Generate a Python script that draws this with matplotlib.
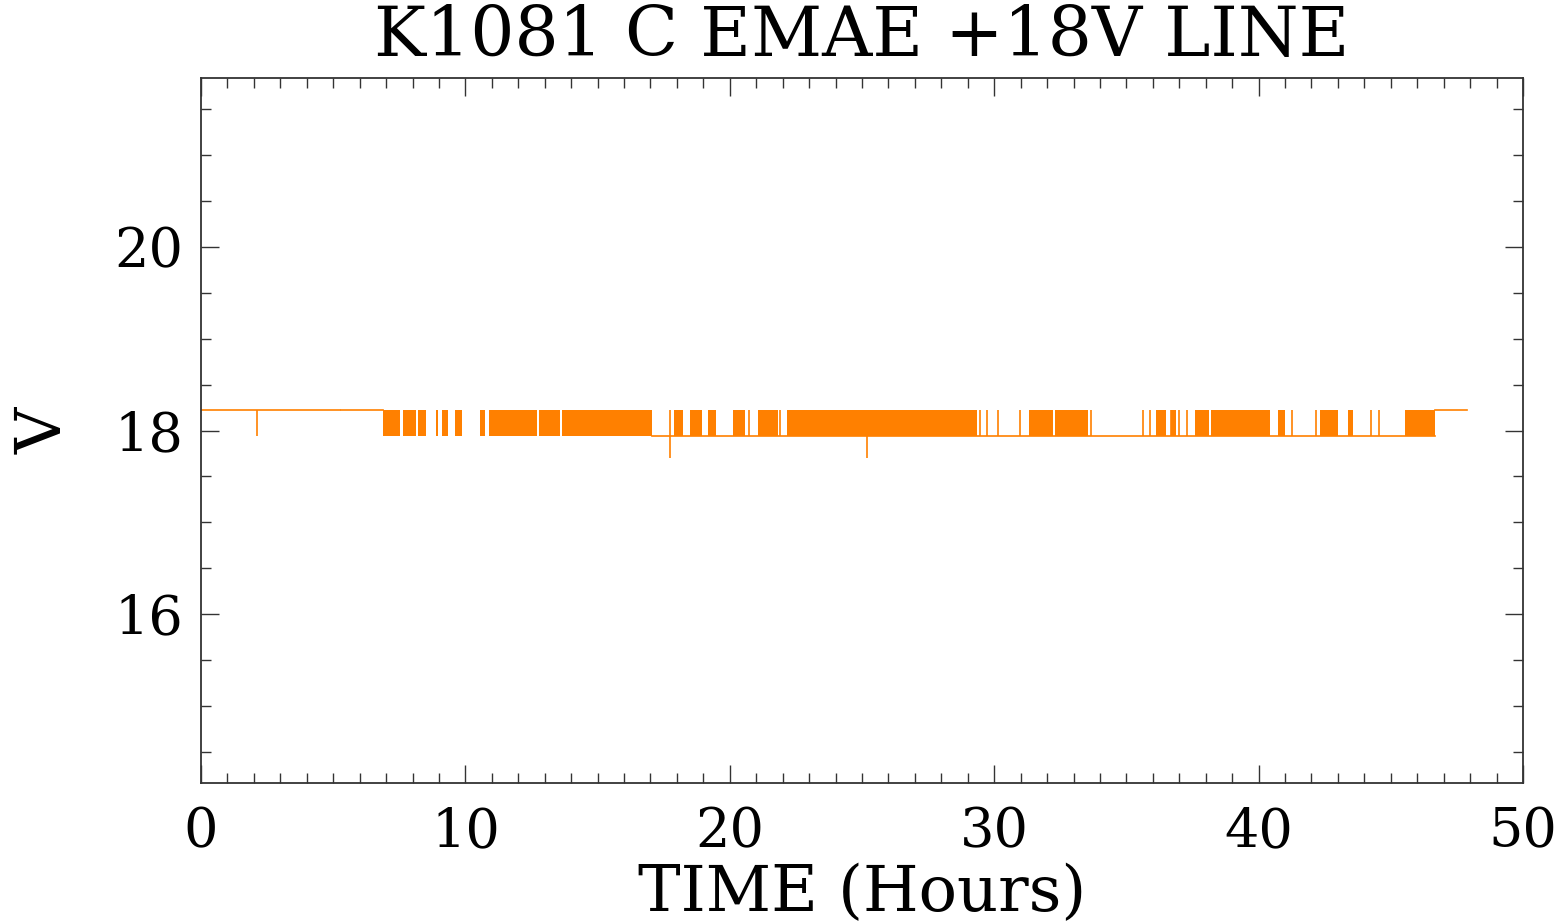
import matplotlib
matplotlib.use("Agg")
import matplotlib.pyplot as plt
from matplotlib.ticker import MultipleLocator

# DATA ---------
title = "K1081 C EMAE +18V LINE"
high_v = 18.22
low_v = 17.945
dip_v = 17.705

# dense toggling blocks (start, end) in hours
block_start = [6.90, 7.01, 7.64, 8.21, 8.89, 9.12, 9.62, 10.55, 10.89,
               12.78, 13.65, 14.44, 16.30, 17.89, 18.50, 19.18, 20.11,
               21.07, 22.16, 22.94, 24.17, 26.82, 28.43, 31.33, 32.31,
               36.13, 36.70, 37.58, 38.19, 40.74, 42.31, 42.77, 43.37,
               45.53]
block_end = [7.13, 7.53, 8.13, 8.51, 8.97, 9.34, 9.87, 10.74, 12.70,
             13.57, 16.23, 17.06, 17.06, 18.23, 18.95, 19.48, 20.57,
             21.83, 23.87, 24.35, 26.82, 28.97, 29.36, 32.23, 33.53,
             36.51, 36.89, 38.11, 40.42, 41.00, 42.76, 43.00, 43.58,
             46.67]

# single switching spikes in hours
spike_t = [2.12, 12.07, 17.73, 20.73, 21.90, 25.20, 29.46, 29.72, 30.14,
           30.98, 33.25, 33.65, 35.63, 35.90, 36.68, 37.00, 37.31, 38.62,
           39.19, 40.00, 40.15, 41.25, 42.16, 44.25, 44.55]
dip_t = [17.73, 25.20]

# baselines (value, start, end)
base_v = [high_v, high_v, low_v, high_v]
base_start = [0.0, 5.30, 17.06, 46.67]
base_end = [5.25, 6.90, 46.67, 47.90]

orange = "#FF8000"

# PLOT ---------
plt.rcParams['font.family'] = ['DejaVu Serif']
fig = plt.figure(figsize=(15.67, 9.21), dpi=100)
ax = fig.add_axes([0.1283, 0.1498, 0.8436, 0.7655])

for v, s, e in zip(base_v, base_start, base_end):
    ax.plot([s, e], [v, v], color=orange, lw=1.2)
for s, e in zip(block_start, block_end):
    ax.fill_between([s, e], low_v, high_v, color=orange, lw=0)
ax.vlines(spike_t, low_v, high_v, color=orange, lw=1.2)
ax.vlines(dip_t, dip_v, low_v, color=orange, lw=1.2)

ax.set_xlim(0, 50)
ax.set_ylim(14.163, 21.837)
ax.xaxis.set_major_locator(MultipleLocator(10))
ax.xaxis.set_minor_locator(MultipleLocator(1))
ax.yaxis.set_major_locator(MultipleLocator(2))
ax.yaxis.set_minor_locator(MultipleLocator(0.5))
ax.tick_params(which='both', direction='in', top=True, right=True,
               color='#333333', width=1.0)
ax.tick_params(which='major', length=13, labelsize=39)
ax.tick_params(axis='x', which='major', pad=17)
ax.tick_params(axis='y', which='major', pad=13)
ax.tick_params(which='minor', length=7)
for sp in ax.spines.values():
    sp.set_color('#333333')
    sp.set_linewidth(1.3)

ax.set_title(title, fontsize=50, pad=16)
ax.set_xlabel("TIME (Hours)", fontsize=46)
ax.xaxis.set_label_coords(0.5, -0.181)
ax.xaxis.label.set_va('baseline')
ax.set_ylabel("V", fontsize=46, labelpad=28)

fig.savefig("out.png", dpi=100)
